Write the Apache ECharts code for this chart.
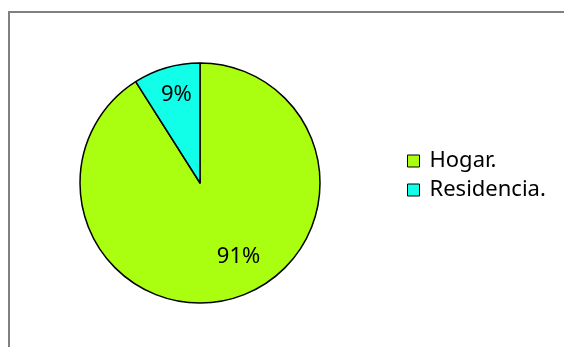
<!DOCTYPE html>
<html>
<head>
<meta charset="utf-8">
<style>
  html, body { margin: 0; padding: 0; background: #fff; }
  #chart { width: 564px; height: 347px; }
</style>
<script src="https://cdn.jsdelivr.net/npm/echarts@6/dist/echarts.min.js"></script>
</head>
<body>
<div id="chart"></div>
<script>
// Where people live: share of each group
const categories = ['Hogar.', 'Residencia.'];
const shares = [91, 9];
const sliceColors = ['#AAFF11', '#11FFE8'];

// Nudges for the percentage labels inside each slice
const labelNudges = [[21, 13], [-6, -28]];

const chart = echarts.init(document.getElementById('chart'), null, { renderer: 'canvas' });

chart.setOption({
  animation: false,
  backgroundColor: '#ffffff',
  graphic: [{
    type: 'rect',
    shape: { x: 9, y: 12, width: 600, height: 400 },
    style: { fill: 'none', stroke: '#808080', lineWidth: 2 },
    silent: true
  }],
  legend: {
    orient: 'vertical',
    left: 402,
    top: 145,
    itemWidth: 12,
    itemHeight: 12,
    itemGap: 7,
    icon: 'rect',
    itemStyle: { borderColor: '#000', borderWidth: 1 },
    textStyle: { fontFamily: 'Noto Sans', fontSize: 22, lineHeight: 22, color: '#000', padding: [0, 0, 0, 5] },
    data: categories
  },
  series: [{
    type: 'pie',
    center: [200, 183],
    radius: 120,
    startAngle: 90,
    clockwise: true,
    avoidLabelOverlap: false,
    itemStyle: { borderColor: '#000', borderWidth: 1.5 },
    label: {
      position: 'inside',
      formatter: '{c}%',
      fontFamily: 'Noto Sans',
      fontSize: 22,
      color: '#000'
    },
    labelLine: { show: false },
    labelLayout: function (params) {
      const n = labelNudges[params.dataIndex];
      return { dx: n[0], dy: n[1] };
    },
    emphasis: { disabled: true },
    data: categories.map((name, i) => ({
      name: name,
      value: shares[i],
      itemStyle: { color: sliceColors[i] }
    }))
  }]
});
</script>
</body>
</html>
